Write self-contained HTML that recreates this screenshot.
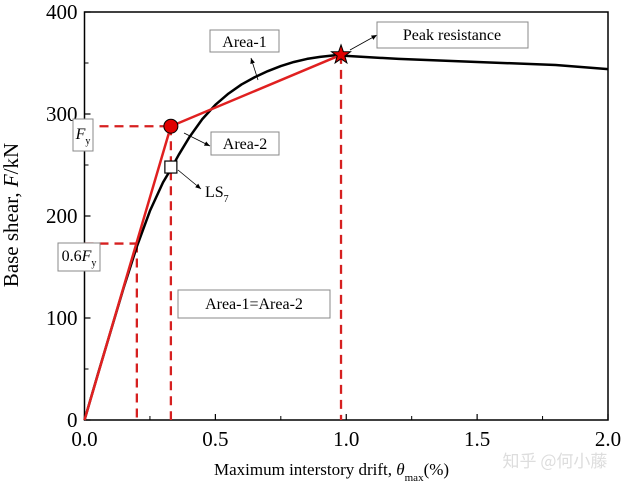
<!DOCTYPE html>
<html><head><meta charset="utf-8"><style>
body{margin:0;background:#fff}
svg{display:block;font-family:"Liberation Serif",serif}
</style></head><body>
<svg id="c" width="624" height="485" viewBox="0 0 624 485">
<defs><marker id="ah" markerWidth="8" markerHeight="8" refX="7" refY="4" orient="auto"><path d="M0,1 L7,4 L0,7 Z" fill="#000"/></marker></defs>
<g id="plot"></g>
<text x="18" y="215" font-size="21" text-anchor="middle" transform="rotate(-90 18 215)">Base shear, <tspan font-style="italic">F</tspan>/kN</text>
<text x="214" y="475" font-size="17">Maximum interstory drift, <tspan font-style="italic">θ</tspan><tspan font-size="11" dy="6">max</tspan><tspan dy="-6">(%)</tspan></text>
<text x="555" y="467" font-size="17" fill="#ddd" text-anchor="middle" font-family="'Noto Sans CJK SC',sans-serif">知乎 @何小藤</text>
</svg>
<script>
const curveX=[0,0.05,0.1,0.15,0.2,0.25,0.3,0.33,0.36,0.4,0.45,0.5,0.55,0.6,0.65,0.7,0.75,0.8,0.85,0.9,0.97,1.0,1.2,1.5,1.8,2.0];
const curveY=[0,44,87,130,170,205,233,246,260,277,295,309,320,329,336,342,347,351,354,356,358,357,354,351,348,344];
const bilinX=[0,0.33,0.98];
const bilinY=[0,288,358];
const fy=288, fy06=173, x06=0.2, xy=0.33, xPeak=0.98, peak=358, ls7=248;
const xTicks=[0,0.5,1.0,1.5,2.0], xTickLabels=["0.0","0.5","1.0","1.5","2.0"];
const yTicks=[0,100,200,300,400], yTickLabels=["0","100","200","300","400"];
const X0=84.5,X1=608,Y0=420,Y1=12;
const sx=v=>X0+v/2*(X1-X0), sy=v=>Y0-v/400*(Y0-Y1);
const g=document.getElementById('plot');
const NS='http://www.w3.org/2000/svg';
function mk(t,a){const e=document.createElementNS(NS,t);for(const k in a)e.setAttribute(k,a[k]);g.appendChild(e);return e;}
let e;
e=mk('rect',{x:X0,y:Y1,width:X1-X0,height:Y0-Y1,fill:'none',stroke:'#000','stroke-width':1.5});

xTicks.forEach((v,i)=>{
 e=mk('line',{x1:sx(v),x2:sx(v),y1:Y0,y2:Y0-6,stroke:'#000','stroke-width':1.2});
 
 if(i<xTicks.length-1){e=mk('line',{x1:sx(v+0.25),x2:sx(v+0.25),y1:Y0,y2:Y0-4,stroke:'#000'});
 }
 e=mk('text',{x:sx(v),y:Y0+26,'font-size':21,'text-anchor':'middle'});e.textContent=xTickLabels[i];
 
});
yTicks.forEach((v,i)=>{
 e=mk('line',{x1:X0,x2:X0+6,y1:sy(v),y2:sy(v),stroke:'#000','stroke-width':1.2});
 
 if(i<yTicks.length-1){e=mk('line',{x1:X0,x2:X0+4,y1:sy(v+50),y2:sy(v+50),stroke:'#000'});
 }
 e=mk('text',{x:X0-7,y:sy(v)+7,'font-size':21,'text-anchor':'end'});e.textContent=yTickLabels[i];
 
});
const dash={stroke:'#d62020','stroke-width':2.3,'stroke-dasharray':'9,6',fill:'none'};
function dl(x1,y1,x2,y2,n){e=mk('line',Object.assign({x1,y1,x2,y2},dash));}
dl(X0,sy(fy),sx(xy),sy(fy),'fy-guide-h');
dl(sx(xy),sy(fy),sx(xy),Y0,'fy-guide-v');
dl(X0,sy(fy06),sx(x06),sy(fy06),'fy06-guide-h');
dl(sx(x06),sy(fy06),sx(x06),Y0,'fy06-guide-v');
dl(sx(xPeak),sy(peak),sx(xPeak),Y0,'peak-guide-v');
e=mk('polyline',{points:curveX.map((v,i)=>sx(v)+','+sy(curveY[i])).join(' '),fill:'none',stroke:'#000','stroke-width':2.5,'stroke-linejoin':'round'});

e=mk('polyline',{points:bilinX.map((v,i)=>sx(v)+','+sy(bilinY[i])).join(' '),fill:'none',stroke:'#e02020','stroke-width':2.5});

e=mk('circle',{cx:sx(xy),cy:sy(fy),r:7,fill:'#e00000',stroke:'#000','stroke-width':1});

e=mk('rect',{x:sx(xy)-6,y:sy(ls7)-6,width:12,height:12,fill:'#fff',stroke:'#000','stroke-width':1.2});

const cx=sx(xPeak),cy=sy(peak);let pts=[];
for(let k=0;k<10;k++){const r=k%2?4:10,a=-Math.PI/2+k*Math.PI/5;pts.push((cx+r*Math.cos(a))+','+(cy+r*Math.sin(a)));}
e=mk('polygon',{points:pts.join(' '),fill:'#e00000',stroke:'#000','stroke-width':1});

function arr(x1,y1,x2,y2,n){e=mk('line',{x1,y1,x2,y2,stroke:'#000','stroke-width':0.8,'marker-end':'url(#ah)'});}
arr(258,80,251,58,'area1-arrow');arr(184,133,210,146,'area2-arrow');arr(178,170,201,189,'ls7-arrow');arr(350,50,377,35,'peak-arrow');
function box(x,y,w,h,n,html,tx,ty){e=mk('rect',{x,y,width:w,height:h,fill:'#fff',stroke:'#888','stroke-width':1});
 e=mk('text',{x:tx,y:ty,'font-size':16,'text-anchor':'middle'});e.innerHTML=html;}
box(210,30,69,22,'area1-label','Area-1',244.5,47);
box(377,22,151,26,'peak-label','Peak resistance',452,40);
box(211,132,68,23,'area2-label','Area-2',245,149);
box(73,119,20,32,'fy-label','<tspan font-style="italic">F</tspan><tspan font-size="10" dy="5">y</tspan>',83,139);
box(58,243,42,28,'fy06-label','0.6<tspan font-style="italic">F</tspan><tspan font-size="10" dy="5">y</tspan>',79,261);
box(178,290,152,28,'equal-area-label','Area-1=Area-2',254,309);
e=mk('text',{x:205,y:197,'font-size':16});e.innerHTML='LS<tspan font-size="10" dy="5">7</tspan>';

</script>
</body></html>
